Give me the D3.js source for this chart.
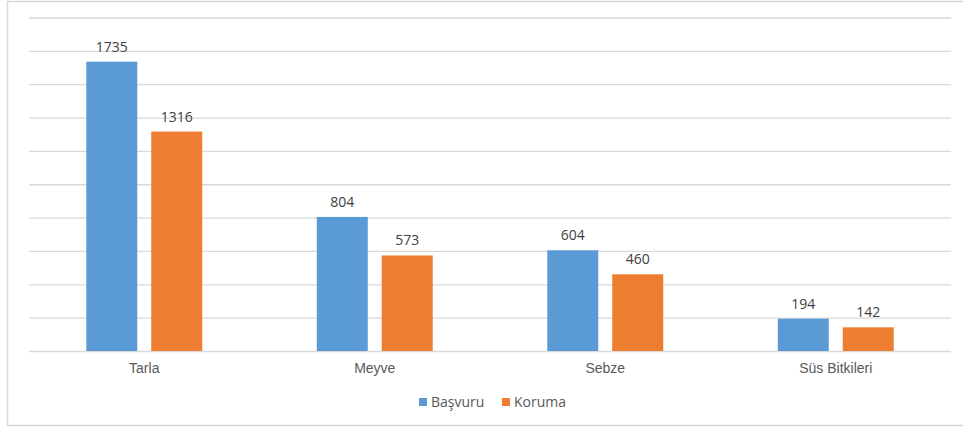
<!DOCTYPE html>
<html>
<head>
<meta charset="utf-8">
<script src="https://cdn.jsdelivr.net/npm/d3@7"></script>
<style>
  body { margin: 0; background: #fff; }
  svg { display: block; font-family: "Open Sans", sans-serif; }
  .grid line { stroke: #d9d9d9; stroke-width: 1.3; }
  .grid .domain { display: none; }
  .xaxis .domain, .xaxis line { display: none; }
  .xaxis text { fill: #595959; font-size: 14px; }
  .val { fill: #404040; font-size: 14px; }
  .leg { fill: #595959; font-size: 14px; }
</style>
</head>
<body>
<svg id="chart" width="963" height="427"></svg>
<script>
// data
var categories = ["Tarla", "Meyve", "Sebze", "Süs Bitkileri"];
var seriesNames = ["Başvuru", "Koruma"];
var basvuru = [1735, 804, 604, 194];
var koruma = [1316, 573, 460, 142];
var gridTicks = [0, 200, 400, 600, 800, 1000, 1200, 1400, 1600, 1800, 2000];
var colors = ["#5b9bd5", "#ed7d31"];

var svg = d3.select("svg#chart");

// outer frame
svg.append("rect")
  .attr("x", 7.5).attr("y", 1.5)
  .attr("width", 970).attr("height", 424)
  .attr("fill", "none")
  .attr("stroke", "#d9d9d9")
  .attr("stroke-width", 1.5);

var plot = { left: 29, right: 951, top: 17.5, bottom: 351 };

// set the ranges
var x0 = d3.scaleBand()
  .domain(categories)
  .range([plot.left, plot.right])
  .paddingInner(0.497)
  .paddingOuter(0.2485);
var x1 = d3.scaleBand()
  .domain(seriesNames)
  .range([0, x0.bandwidth()])
  .paddingInner(0.215);
var y = d3.scaleLinear()
  .domain([0, 2000])
  .range([plot.bottom, plot.top]);

// gridlines
svg.append("g")
  .attr("class", "grid")
  .attr("transform", "translate(" + plot.left + ",0)")
  .call(d3.axisLeft(y).tickValues(gridTicks).tickSize(-(plot.right - plot.left)).tickFormat(""));

var rows = categories.map(function (c, i) {
  return { cat: c, values: [basvuru[i], koruma[i]] };
});

var groups = svg.selectAll(".group")
  .data(rows)
  .enter().append("g")
  .attr("class", "group")
  .attr("transform", function (d) { return "translate(" + x0(d.cat) + ",0)"; });

var bars = groups.selectAll("g.bar")
  .data(function (d) {
    return d.values.map(function (v, j) { return { name: seriesNames[j], value: v, idx: j }; });
  })
  .enter().append("g")
  .attr("class", "bar");

bars.append("rect")
  .attr("x", function (d) { return x1(d.name); })
  .attr("width", x1.bandwidth())
  .attr("y", function (d) { return y(d.value); })
  .attr("height", function (d) { return y(0) - y(d.value); })
  .attr("fill", function (d) { return colors[d.idx]; });

bars.append("text")
  .attr("class", "val")
  .attr("text-anchor", "middle")
  .attr("x", function (d) { return x1(d.name) + x1.bandwidth() / 2; })
  .attr("y", function (d) { return y(d.value) - 10; })
  .text(function (d) { return d.value; });

// x axis labels
svg.append("g")
  .attr("class", "xaxis")
  .attr("transform", "translate(0," + plot.bottom + ")")
  .call(d3.axisBottom(x0).tickSize(0).tickPadding(12));

// legend
var legend = svg.append("g").attr("transform", "translate(419,398)");
var legX = [0, 83];
seriesNames.forEach(function (n, i) {
  legend.append("rect")
    .attr("x", legX[i]).attr("y", 0)
    .attr("width", 8).attr("height", 8)
    .attr("fill", colors[i]);
  legend.append("text")
    .attr("class", "leg")
    .attr("x", legX[i] + 12).attr("y", 8.5)
    .text(n);
});
</script>
</body>
</html>
